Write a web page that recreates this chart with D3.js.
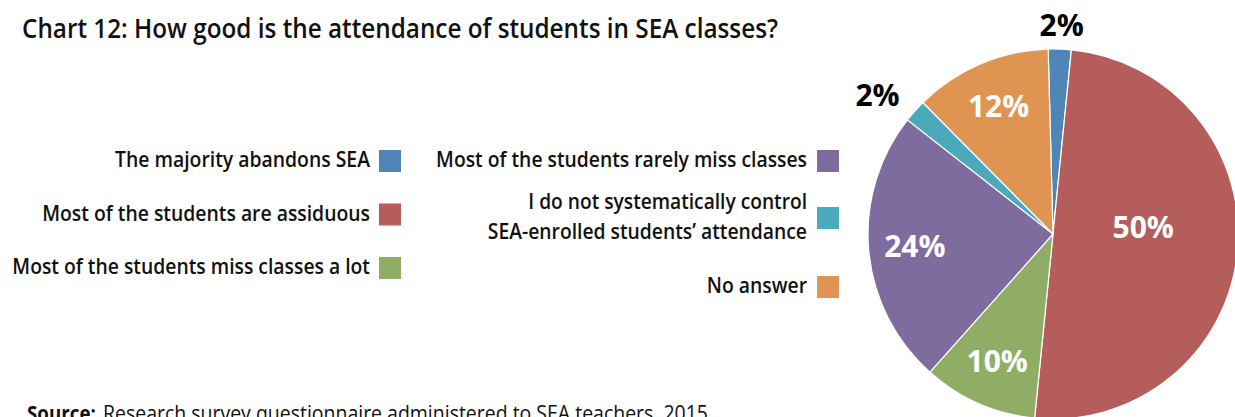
<!DOCTYPE html>
<html>
<head>
<meta charset="utf-8">
<script src="https://cdn.jsdelivr.net/npm/d3@7"></script>
<style>
  html, body { margin: 0; padding: 0; background: #fff; }
  svg { display: block; font-family: "Open Sans", sans-serif; }
</style>
</head>
<body>
<svg id="chart" width="1235" height="417"></svg>
<script>
const categories = [
  "The majority abandons SEA",
  "Most of the students are assiduous",
  "Most of the students miss classes a lot",
  "Most of the students rarely miss classes",
  "I do not systematically control\nSEA-enrolled students\u2019 attendance",
  "No answer"
];
const values = [2, 50, 10, 24, 2, 12];
const colors = ["#4f86b7", "#b45d5a", "#8fad65", "#7f6c9f", "#4aa9bb", "#e09452"];

const svg = d3.select("#chart");

// measure at regular weight, then draw heavier but squeezed to the condensed width
function squeeze(sel, k, weight) {
  sel.each(function () {
    const t = d3.select(this).attr("font-weight", 400);
    const w = this.getComputedTextLength();
    t.attr("font-weight", weight)
      .attr("textLength", w * k)
      .attr("lengthAdjust", "spacingAndGlyphs");
  });
}

// title
svg.append("text")
  .attr("x", 22).attr("y", 38)
  .attr("font-size", 27)
  .attr("font-weight", 600)
  .attr("fill", "#111")
  .attr("textLength", 756)
  .attr("lengthAdjust", "spacingAndGlyphs")
  .text("Chart 12: How good is the attendance of students in SEA classes?");

// pie
const cx = 1053, cy = 234, R = 185;
const pie = d3.pie().sort(null)
  .startAngle(-1.5 * Math.PI / 180)
  .endAngle((360 - 1.5) * Math.PI / 180);
const arcs = pie(values);
const arc = d3.arc().innerRadius(0).outerRadius(R);

const g = svg.append("g").attr("transform", `translate(${cx},${cy})`);
g.selectAll("path")
  .data(arcs)
  .join("path")
  .attr("d", arc)
  .attr("fill", (d, i) => colors[i])
  .attr("stroke", "#fff")
  .attr("stroke-width", 1.2);

// labels: inside for the big slices, outside for the small ones
function labelPos(d) {
  const a = (d.startAngle + d.endAngle) / 2;
  if (d.value < 5) {
    return [Math.sin(a) * (R + 50), -Math.cos(a) * (R + 24)];
  }
  const r = d.value >= 40 ? R * 0.49 : R * 0.75;
  return d3.arc().innerRadius(r).outerRadius(r).centroid(d);
}
g.selectAll("text.lab")
  .data(arcs)
  .join("text")
  .attr("class", "lab")
  .attr("transform", d => `translate(${labelPos(d)})`)
  .attr("text-anchor", "middle")
  .attr("dy", d => d.value >= 40 ? "-0.18em" : "0.36em")
  .attr("font-size", 30)
  .attr("font-weight", "bold")
  .attr("fill", d => d.value < 5 ? "#000" : "#fff")
  .text(d => d.value + "%");

// legend
const legendLeft = [0, 1, 2];
const legendRight = [3, 4, 5];
const leftY = d3.scalePoint().domain(legendLeft).range([161, 268]);
const rightY = d3.scaleOrdinal().domain(legendRight).range([161, 218, 287]);

function drawLegend(items, yOf, swatchX, textRight) {
  const lg = svg.append("g");
  items.forEach(i => {
    const y = yOf(i);
    lg.append("rect")
      .attr("x", swatchX).attr("y", y - 11)
      .attr("width", 22).attr("height", 22)
      .attr("fill", colors[i]);
    const lines = categories[i].split("\n");
    lines.forEach((ln, k) => {
      lg.append("text")
        .attr("x", textRight)
        .attr("y", y + 6 + (k - (lines.length - 1) / 2) * 30)
        .attr("text-anchor", "end")
        .attr("font-size", 22)
        .attr("fill", "#111")
        .text(ln)
        .call(squeeze, 0.91, 600);
    });
  });
}
drawLegend(legendLeft, leftY, 379, 370);
drawLegend(legendRight, rightY, 817, 807);

// source
svg.append("text")
  .attr("x", 27).attr("y", 421)
  .attr("font-size", 22)
  .attr("fill", "#111")
  .text("Source:")
  .call(squeeze, 0.9, 700);
svg.append("text")
  .attr("x", 103).attr("y", 421)
  .attr("font-size", 22)
  .attr("fill", "#111")
  .text("Research survey questionnaire administered to SEA teachers, 2015")
  .call(squeeze, 0.885, 400);
</script>
</body>
</html>
